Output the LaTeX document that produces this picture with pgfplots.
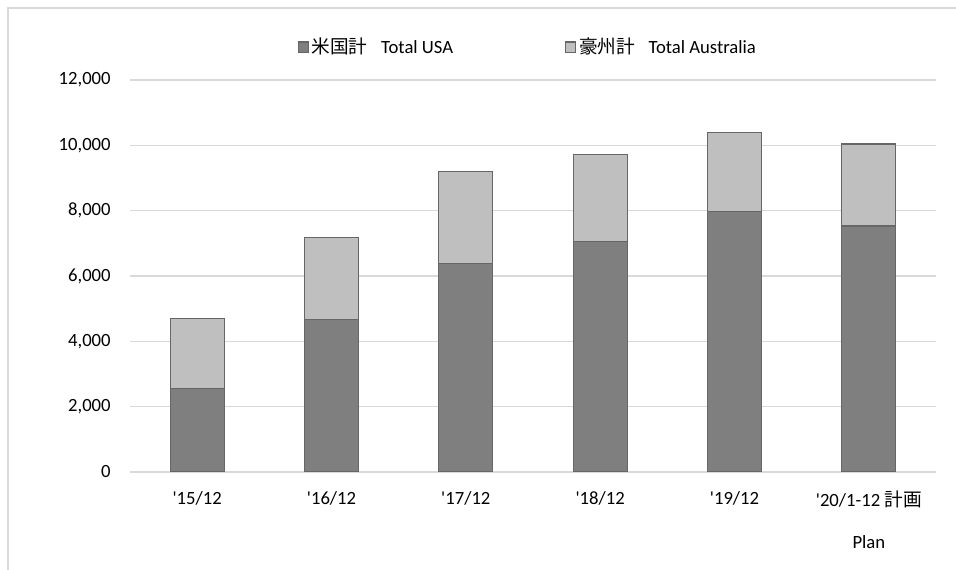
\documentclass[border=0pt]{standalone}
\usepackage{pgfplots}
\pgfplotsset{compat=1.18}
\usepackage{fontspec}
\setmainfont{Carlito}
\newfontfamily\plainfont{Carlito}
\newfontfamily\cjk{Noto Sans CJK JP}
\newcommand\apos{{\plainfont'}}
\definecolor{usa}{HTML}{7F7F7F}
\definecolor{aus}{HTML}{BFBFBF}
\definecolor{edge}{HTML}{666666}
\definecolor{gridc}{HTML}{D9D9D9}
\newcommand\lblfont{\fontsize{14}{17}\selectfont}
\begin{document}
\begin{tikzpicture}
\useasboundingbox (0,0) rectangle (717pt,427.5pt);
\draw[gridc, line width=1pt] (6pt,0) -- (6pt,421.5pt) -- (717pt,421.5pt);
\begin{axis}[
    at={(97.5pt,73.5pt)}, anchor=south west,
    scale only axis, width=604.5pt, height=294pt,
    ybar stacked, bar width=40.5pt,
    xmin=-0.5, xmax=5.5, ymin=0, ymax=12000,
    xtick={0,...,5},
    xticklabels={\apos15/12, \apos16/12, \apos17/12, \apos18/12, \apos19/12,
        {\apos20/1-12 {\cjk 計画}\\[14pt]Plan}},
    ytick={0,2000,...,12000},
    scaled y ticks=false,
    axis line style={draw=none},
    major tick length=0pt,
    ymajorgrids, grid style={gridc, line width=0.8pt},
    tick label style={font=\lblfont},
    xticklabel style={align=center, yshift=-11pt},
    yticklabel style={xshift=-11pt},
    /pgf/number format/.cd, fixed, 1000 sep={,}, assume math mode=true,
    /pgfplots/.cd,
    legend columns=2,
    legend style={at={(0.494,1.084)}, anchor=center, draw=none, fill=none,
        font=\lblfont,
        /tikz/every even column/.append style={column sep=82pt}},
    legend image code/.code={\draw[#1] (0pt,-3.8pt) rectangle (7.6pt,3.8pt);},
]
\addplot[fill=usa, draw=edge, line width=0.8pt] coordinates {
    (0,2550) (1,4660) (2,6370) (3,7050) (4,7970) (5,7530)};
\addlegendentry{{\cjk 米国計}\enspace\ Total USA}
\addplot[fill=aus, draw=edge, line width=0.8pt] coordinates {
    (0,2140) (1,2520) (2,2840) (3,2660) (4,2410) (5,2510)};
\addlegendentry{{\cjk 豪州計}\enspace\ Total Australia}
\end{axis}
\end{tikzpicture}
\end{document}
